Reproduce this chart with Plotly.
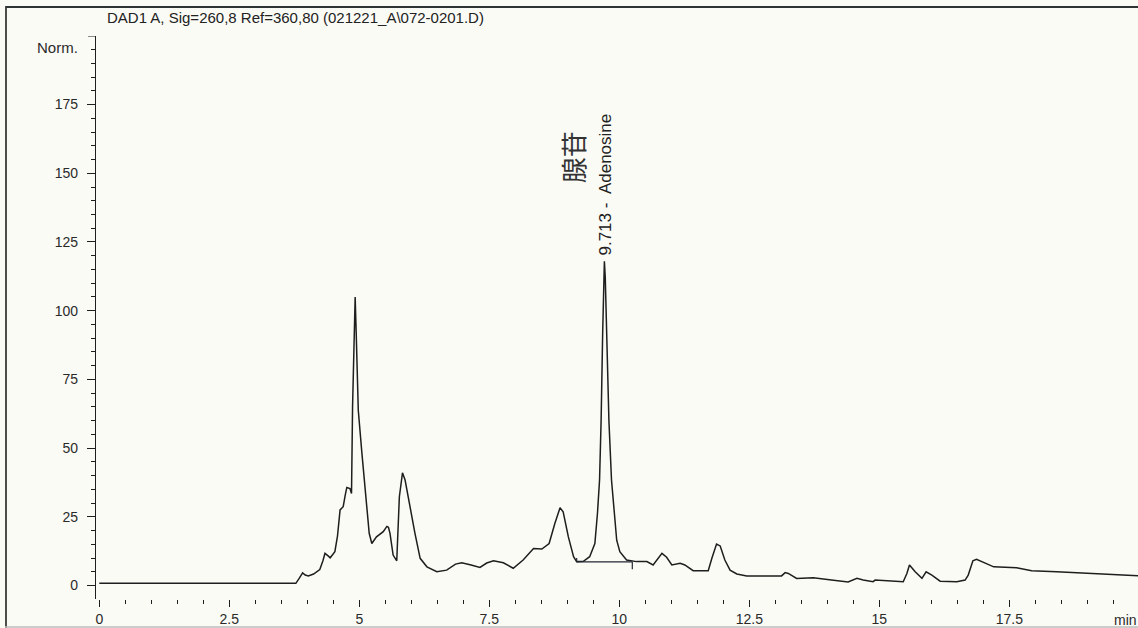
import plotly.graph_objects as go

# Chromatogram (retention time in min, signal in Norm.)
times = [0.00, 3.78, 3.84, 3.91, 3.96, 4.02, 4.12, 4.24, 4.30, 4.34, 4.40, 4.44, 4.53, 4.58,
         4.63, 4.69, 4.73, 4.76, 4.82, 4.85, 4.87, 4.90, 4.92, 4.94, 4.95, 4.98, 5.05, 5.13,
         5.19, 5.24, 5.33, 5.46, 5.53, 5.56, 5.59, 5.65, 5.72, 5.77, 5.83, 5.88, 5.97, 6.07,
         6.17, 6.30, 6.49, 6.68, 6.85, 6.97, 7.15, 7.32, 7.45, 7.58, 7.77, 7.96, 8.15, 8.35,
         8.51, 8.65, 8.76, 8.86, 8.92, 9.02, 9.12, 9.18, 9.31, 9.43, 9.53, 9.58, 9.62, 9.65,
         9.68, 9.70, 9.713, 9.73, 9.76, 9.80, 9.85, 9.90, 9.95, 10.01, 10.14, 10.33, 10.53,
         10.65, 10.82, 10.91, 11.01, 11.17, 11.26, 11.42, 11.71, 11.78, 11.87, 11.94, 12.03,
         12.13, 12.26, 12.45, 13.12, 13.19, 13.25, 13.41, 13.73, 14.08, 14.31, 14.40, 14.57,
         14.69, 14.88, 14.92, 15.46, 15.53, 15.58, 15.69, 15.82, 15.90, 16.01, 16.17, 16.49,
         16.65, 16.71, 16.80, 16.87, 17.07, 17.20, 17.64, 17.93, 18.41, 19.08, 19.76, 20.0]
signal = [0.8, 0.8, 2.5, 4.6, 3.8, 3.5, 4.2, 5.8, 9.0, 11.7, 10.8, 10.1, 12.3, 18.0,
          27.5, 28.7, 33.0, 35.7, 35.3, 33.5, 65.0, 95.0, 105.0, 92.0, 85.0, 63.8, 48.1, 32.3,
          19.0, 15.3, 17.7, 19.6, 21.5, 21.2, 19.0, 11.1, 9.0, 32.3, 41.0, 38.4, 28.7, 19.0,
          9.9, 6.8, 5.0, 5.6, 7.8, 8.3, 7.5, 6.6, 8.2, 9.0, 8.3, 6.3, 9.3, 13.5,
          13.3, 15.3, 22.6, 28.3, 26.8, 17.7, 10.5, 8.7, 8.8, 10.5, 15.3, 26.3, 38.4, 60.0,
          92.0, 112.0, 118.0, 112.0, 88.0, 60.0, 38.4, 26.3, 16.5, 12.3, 9.3, 8.7, 8.7,
          7.5, 11.7, 10.3, 7.5, 8.1, 7.5, 5.4, 5.4, 9.9, 15.1, 14.4, 9.3,
          5.6, 4.2, 3.5, 3.5, 4.7, 4.4, 2.6, 2.8, 2.0, 1.3, 1.3, 2.6,
          2.0, 1.4, 2.0, 1.4, 4.4, 7.5, 5.0, 2.6, 5.0, 3.8, 1.6, 1.4,
          2.0, 3.8, 9.0, 9.5, 7.7, 6.8, 6.5, 5.4, 5.0, 4.4, 3.6, 3.5]

# Integration baseline of the adenosine peak (with start/end markers)
base_x = [9.18, 9.18, None, 9.18, 10.25, None, 10.25, 10.25]
base_y = [10.0, 8.6, None, 8.6, 8.6, None, 8.6, 5.9]

peak_time = 9.713
peak_label = "9.713 -  Adenosine"
peak_cn = "腺苷"
title_text = "DAD1 A, Sig=260,8 Ref=360,80 (021221_A\\072-0201.D)"

BG = "#fbfbf6"
INK = "#1e1e1e"
FONT = "Liberation Sans, Arial, sans-serif"

fig = go.Figure()
fig.add_trace(go.Scatter(x=times, y=signal, mode="lines",
                         line=dict(color=INK, width=1.5), showlegend=False,
                         hoverinfo="skip"))
fig.add_trace(go.Scatter(x=base_x, y=base_y, mode="lines",
                         line=dict(color="#202830", width=1.2), showlegend=False,
                         hoverinfo="skip", connectgaps=False))

W, H = 1138, 628
L, R, T, B = 96, 0, 36, 29
pw, ph = W - L - R, H - T - B

def px(xp):
    return (xp - L) / pw

def py(yp):
    return (H - B - yp) / ph

fig.update_layout(
    width=W, height=H,
    margin=dict(l=L, r=R, t=T, b=B, pad=0),
    paper_bgcolor=BG, plot_bgcolor=BG,
    font=dict(family=FONT, color="#2a2a2a", size=13),
    xaxis=dict(range=[-0.064, 19.975], showgrid=False, zeroline=False, showline=False,
               tickmode="linear", tick0=0, dtick=2.5, ticks="outside", ticklen=7,
               tickwidth=1.3, tickcolor=INK, tickfont=dict(size=14, family=FONT, color="#2a2a2a"),
               minor=dict(tickmode="linear", tick0=0, dtick=0.5, ticks="outside", ticklen=4,
                          tickwidth=1.2, tickcolor=INK, showgrid=False)),
    yaxis=dict(range=[-4.9, 199.95], showgrid=False, zeroline=False, showline=True,
               linecolor=INK, linewidth=1.3,
               tickmode="linear", tick0=0, dtick=25, ticks="outside", ticklen=8,
               tickwidth=1.3, tickcolor=INK, tickfont=dict(size=14, family=FONT, color="#2a2a2a"),
               ticklabelstandoff=6,
               minor=dict(tickmode="linear", tick0=0, dtick=5, ticks="outside", ticklen=4,
                          tickwidth=1.2, tickcolor=INK, showgrid=False)),
    shapes=[
        dict(type="line", xref="paper", yref="y", x0=px(88), x1=0, y0=200, y1=200,
             line=dict(color=INK, width=1.3)),
        dict(type="line", xref="paper", yref="paper", x0=px(6), x1=px(6), y0=py(6), y1=py(H),
             line=dict(color="#222222", width=1.6)),
        dict(type="line", xref="paper", yref="paper", x0=px(6), x1=px(W), y0=py(7), y1=py(7),
             line=dict(color="#2e3434", width=2)),
        dict(type="line", xref="paper", yref="paper", x0=px(5), x1=px(W), y0=py(627), y1=py(627),
             line=dict(color="#bdbdbd", width=1.5)),
    ],
    annotations=[
        dict(text=title_text, xref="paper", yref="paper", x=px(295), y=py(17),
             xanchor="center", yanchor="middle", showarrow=False,
             font=dict(size=15, family=FONT, color="#222222")),
        dict(text="Norm.", xref="paper", yref="paper", x=px(80), y=py(47),
             xanchor="right", yanchor="middle", showarrow=False,
             font=dict(size=15, family=FONT, color="#2a2a2a")),
        dict(text="min", xref="paper", yref="paper", x=px(1112), y=py(620),
             xanchor="left", yanchor="middle", showarrow=False,
             font=dict(size=14, family=FONT, color="#2a2a2a")),
        dict(text=peak_label, xref="x", yref="y", x=peak_time + 0.02, y=119.5,
             xanchor="center", yanchor="bottom", textangle=-90, showarrow=False,
             font=dict(size=17, family=FONT, color="#222222")),
        dict(text=peak_cn, xref="x", yref="y", x=9.09, y=155.8,
             xanchor="center", yanchor="middle", textangle=-90, showarrow=False,
             font=dict(size=26, family="Noto Sans CJK SC", color="#333333")),
    ],
)

fig.write_html("out.html", config={"displayModeBar": False},
               post_script="document.body.style.margin='0';document.body.style.overflow='hidden';")
